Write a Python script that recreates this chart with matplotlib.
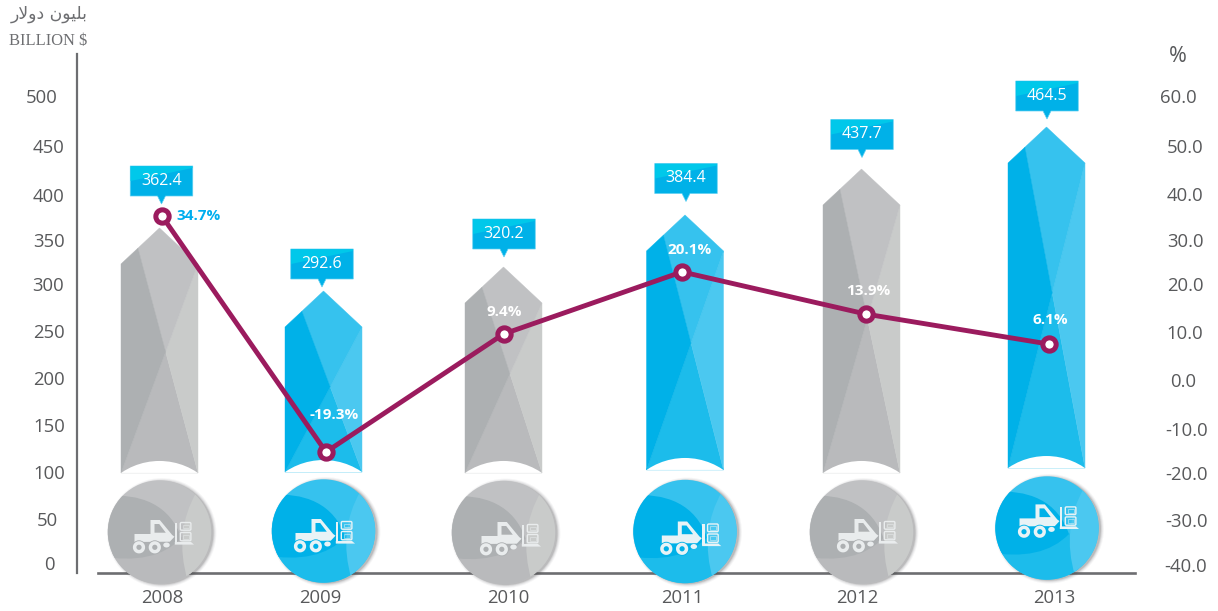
import matplotlib
matplotlib.use('Agg')
import matplotlib.pyplot as plt
from matplotlib.patches import Polygon, Ellipse, Circle, PathPatch, FancyBboxPatch, Wedge, Rectangle
from matplotlib.path import Path
from matplotlib.transforms import ScaledTranslation

W, H = 1218, 611
DPI = 100

# ---- data ----
years = ['2008', '2009', '2010', '2011', '2012', '2013']
year_label_x = [162, 320, 508, 682, 857, 1054]
bar_x = [159.5, 323.5, 503.5, 685, 861.5, 1046.5]
bar_tops = [358.7, 291.2, 316.9, 372.6, 421.8, 466.8]
bar_bases = [96.4, 97.4, 96.4, 99.6, 96.4, 101.7]
bar_labels = ['362.4', '292.6', '320.2', '384.4', '437.7', '464.5']
bar_tints = ['gray', 'blue', 'gray', 'blue', 'gray', 'blue']
line_x = [162, 326, 503.5, 682, 866, 1049]
line_vals = [34.4, -15.9, 9.25, 22.5, 13.5, 7.1]
line_labels = ['34.7%', '-19.3%', '9.4%', '20.1%', '13.9%', '6.1%']
left_ticks = [500, 450, 400, 350, 300, 250, 200, 150, 100, 50, 0]
right_ticks = [60, 50, 40, 30, 20, 10, 0, -10, -20, -30, -40]
right_tick_labels = ['60.0', '50.0', '40.0', '30.0', '20.0', '10.0', '0.0', '-10.0', '-20.0', '-30.0', '-40.0']

# ---- layout / style ----
TXT = '#58595b'
AXC = '#6d6e71'
BLUE = '#00b1e8'
LINE = '#9b1b5e'
PAL = {'gray': dict(left='#adb0b2', top='#c0c1c3', right='#c9cbca', bottom='#b9babc', icon='#e9eced'),
       'blue': dict(left='#00b1e8', top='#36c2ee', right='#4bc8f0', bottom='#1cbceb', icon='#e8f3f6')}
left_label_py = [96, 146, 195, 240, 284, 331, 378, 425, 472, 519, 563]
left_label_dx = [-7, 0, 0, 0, -1, 0, 0, 0, 0, -2, 0]
right_label_py = [96, 146, 194, 240, 284, 332, 380, 429, 473, 520, 565]
right_label_dx = [-7, 0, 0, 0, 0, 0, -2, 2, 2, 2, 1]
circle_c = [(159.5, 532), (323.5, 531), (503.5, 532.5), (685, 531.5), (861.5, 532), (1047, 528)]
icon_shift = [(0.5, 0), (-2.5, 0), (3.5, 1.5), (2.3, 2), (2.5, -1), (-2, -11.6)]
call_x = [161.5, 322, 504, 686, 862, 1047]
call_tip_py = [204, 287, 257, 201.5, 157.5, 119]
pct_pos = [(199, 216), (334, 415), (504, 312), (690, 250), (868, 291), (1050, 320)]

plt.rcParams['font.family'] = ['Open Sans', 'DejaVu Sans']
fig = plt.figure(figsize=(W / DPI, H / DPI), dpi=DPI, facecolor='white')

AX_L, AX_R, AX_B, AX_T = 77, 1135, 572.5, 54
ax = fig.add_axes([AX_L / W, 1 - AX_B / H, (AX_R - AX_L) / W, (AX_B - AX_T) / H], zorder=1)
ax.set_xlim(AX_L, AX_R)
PX_L = 0.934
ax.set_ylim((563 - AX_B) / PX_L, (563 - AX_T) / PX_L)
ax.patch.set_visible(False)
for s in ['top', 'right']:
    ax.spines[s].set_visible(False)
ax.spines['left'].set_color(AXC)
ax.spines['left'].set_linewidth(1.6)
ax.spines['bottom'].set_color(AXC)
ax.spines['bottom'].set_linewidth(1.9)
ax.spines['bottom'].set_bounds(98, AX_R)

ax.set_xticks(year_label_x)
ax.set_xticklabels(years, fontsize=13.3, color=TXT)
ax.tick_params(axis='x', length=0, pad=12.2)
ax.set_yticks(left_ticks)
ax.set_yticklabels([str(t) for t in left_ticks], fontsize=13.3, color=TXT, ha='center')
ax.tick_params(axis='y', length=0, pad=20.2)
for lab, v, py, dx in zip(ax.get_yticklabels(), left_ticks, left_label_py, left_label_dx):
    dy = (563 - PX_L * v) - py
    lab.set_transform(lab.get_transform() + ScaledTranslation(dx / DPI, dy / DPI, fig.dpi_scale_trans))


def intersect(p1, p2, p3, p4):
    x1, y1 = p1; x2, y2 = p2; x3, y3 = p3; x4, y4 = p4
    d = (x1 - x2) * (y3 - y4) - (y1 - y2) * (x3 - x4)
    a = x1 * y2 - y1 * x2
    b = x3 * y4 - y3 * x4
    return ((a * (x3 - x4) - (x1 - x2) * b) / d, (a * (y3 - y4) - (y1 - y2) * b) / d)


BW = 77
DROP = 36 / PX_L
for x, top, base, tint in zip(bar_x, bar_tops, bar_bases, bar_tints):
    c = PAL[tint]
    l, r = x - BW / 2, x + BW / 2
    sh = top - DROP
    roof = (l + 0.44 * BW / 2, sh + 0.44 * DROP)
    TL, TR, BL, BR, AP = (l, sh), (r, sh), (l, base), (r, base), (x, top)
    X = intersect(roof, BR, BL, TR)
    outline = Polygon([BL, TL, AP, TR, BR], closed=True, fc='none', ec='none')
    ax.add_patch(outline)
    for pts, col in [([BL, BR, X], c['bottom']), ([TR, BR, X], c['right']),
                     ([roof, AP, TR, X], c['top']), ([TL, roof, X, BL], c['left'])]:
        ax.add_patch(Polygon(pts, closed=True, fc=col, ec=col, lw=0.3))
    arch = Ellipse((x, base - (67.8 - 12) / PX_L), 2 * 67.8, 2 * 67.8 / PX_L, fc='white', ec='none', zorder=3)
    ax.add_patch(arch)
    arch.set_clip_path(outline)

# overlay in pixel units for the round badges, icons and value flags
ov = fig.add_axes([0, 0, 1, 1], zorder=2)
ov.set_xlim(0, W)
ov.set_ylim(H, 0)
ov.axis('off')


def curve(*segs):
    verts, codes = [], []
    for code, pts in segs:
        verts += pts
        codes += [code] * len(pts)
    return Path(verts, codes)


def icon(cx, cy, col, bg):
    z = 6
    def P(pts):
        return [(cx + a, cy + b) for a, b in pts]
    body = P([(-25.5, 2), (-9.5, 2), (-9.5, -12), (-0.2, -12), (12.2, 3), (14.5, 4.7), (9.8, 9.7), (-25.5, 10)])
    win = P([(-5.5, -8), (-5.5, 0.7), (5.8, 0.7), (-0.8, -8)])
    path = Path(body + [body[0]] + win + [win[0]],
                [Path.MOVETO] + [Path.LINETO] * (len(body) - 1) + [Path.CLOSEPOLY] +
                [Path.MOVETO] + [Path.LINETO] * 3 + [Path.CLOSEPOLY])
    ov.add_patch(PathPatch(path, fc=col, ec='none', zorder=z))
    for wx in (-21, -5.2):
        ov.add_patch(Circle((cx + wx, cy + 15.3), 7.0, fc=bg, ec='none', zorder=z + .1))
        ov.add_patch(Wedge((cx + wx, cy + 15.3), 6.1, 0, 360, width=3.5, fc=col, ec='none', zorder=z + .2))
    ov.add_patch(Ellipse((cx + 6.5, cy + 13), 6.5, 5, fc=col, ec='none', zorder=z))
    ov.add_patch(Rectangle((cx + 14.8, cy - 9.3), 2.6, 20.6, fc=col, ec='none', zorder=z))
    ov.add_patch(Polygon(P([(14.8, 10), (31, 10), (34, 12.6), (14.8, 12.6)]), fc=col, ec='none', zorder=z))
    for by, bh in ((-10, 8.7), (0, 9.3)):
        ov.add_patch(FancyBboxPatch((cx + 20.3, cy + by + .5), 10.6, bh - 1, boxstyle='round,pad=0,rounding_size=1.2',
                                    fc='none', ec=col, lw=1.0, zorder=z))
        ov.add_patch(Rectangle((cx + 22.7, cy + by + 2.5), 5.8, bh - 5, fc='none', ec=col, lw=0.5, alpha=.7, zorder=z))


R = 51.7
for (cx, cy), (sx, sy), tint in zip(circle_c, icon_shift, bar_tints):
    c = PAL[tint]
    for grow, a in [(3.5, .05), (2.5, .08), (1.5, .12), (0.6, .18)]:
        ov.add_patch(Circle((cx + 2.2, cy + 0.8), R + grow - .5, fc='#4d4d4f', ec='none', alpha=a, zorder=4))
    disc = Circle((cx, cy), R, fc=c['top'], ec='none', zorder=5)
    ov.add_patch(disc)
    M, C3, L, CL = Path.MOVETO, Path.CURVE3, Path.LINETO, Path.CLOSEPOLY
    def rel(pts):
        return [(cx + a, cy + b) for a, b in pts]
    layers = [
        (curve((M, rel([(-60, 24)])), (L, rel([(22, 6), (32, -6), (32, 60), (-60, 60)])), (CL, rel([(-60, 24)]))), c['bottom']),
        (curve((M, rel([(-60, -36)])), (C3, rel([(5, -42), (22, 6)])), (C3, rel([(-5, 34), (-60, 24)])), (CL, rel([(-60, -36)]))), c['left']),
        (curve((M, rel([(37, -40)])), (C3, rel([(14, 0), (28, 48)])), (L, rel([(70, 48), (70, -40)])), (CL, rel([(37, -40)]))), c['right']),
    ]
    for p, col in layers:
        pp = PathPatch(p, fc=col, ec='none', zorder=5.1)
        ov.add_patch(pp)
        pp.set_clip_path(disc)
    icon(cx + sx, cy + sy, c['icon'], c['left'])

# value flags
FW, FH, TIP = 62.5, 30, 8
for x, tip, lab in zip(call_x, call_tip_py, bar_labels):
    l, r = x - FW / 2, x + FW / 2
    b = tip - TIP
    t = b - FH
    ov.add_patch(Polygon([(l, t), (r, t), (r, b), (x + 4, b), (x, tip), (x - 4, b), (l, b)], closed=True,
                         fc=BLUE, ec='#5fd0f2', lw=0.5, zorder=7))
    ov.add_patch(Polygon([(l + .3, t + .3), (r - .3, t + .3), (r - .3, t + 2), (l + .3, t + 15)], closed=True,
                         fc='#00c8ea', ec='none', zorder=7.1))
    ov.text(x, (t + b) / 2, lab, color='white', fontsize=11.5, ha='center', va='center', zorder=8)

# percentage line on the right-hand scale
tx = ax.twinx()
tx.set_zorder(3)
tx.patch.set_visible(False)
for s in tx.spines.values():
    s.set_visible(False)
PX_R = 4.69
tx.set_ylim((377.4 - AX_B) / PX_R, (377.4 - AX_T) / PX_R)
tx.set_yticks(right_ticks)
tx.set_yticklabels(right_tick_labels, fontsize=13.3, color=TXT, ha='center')
tx.tick_params(axis='y', length=0, pad=36)
for lab, v, py, dx in zip(tx.get_yticklabels(), right_ticks, right_label_py, right_label_dx):
    dy = (377.4 - PX_R * v) - py
    lab.set_transform(lab.get_transform() + ScaledTranslation(dx / DPI, dy / DPI, fig.dpi_scale_trans))
tx.plot(line_x, line_vals, color=LINE, lw=3.5, marker='o', ms=9.6, mfc='white', mec=LINE, mew=3.6,
        solid_joinstyle='miter', clip_on=False)

top_ov = fig.add_axes([0, 0, 1, 1], zorder=4)
top_ov.set_xlim(0, W)
top_ov.set_ylim(H, 0)
top_ov.axis('off')
for i, ((px, py), lab) in enumerate(zip(pct_pos, line_labels)):
    top_ov.text(px, py, lab, color='#00aeef' if i == 0 else 'white', fontsize=11, fontweight='bold',
                ha='center', va='center')

# axis captions ("billion dollars" in Arabic, shaped glyphs in visual order for the non-shaping text engine)
arabic = '\ufead\ufefb\ufeed\ufea9 \ufee5\ufeee\ufef4\ufee0\ufe91'
top_ov.text(88, 14, arabic, family='DejaVu Sans', fontsize=12.4, color='#6d6e71', ha='right', va='center')
top_ov.text(87, 40.5, 'BILLION $', family='Liberation Serif', fontsize=11.9, color='#6d6e71', ha='right', va='center')
top_ov.text(1178, 57, '%', fontsize=15.5, color=TXT, ha='center', va='center')

fig.savefig('out.png', dpi=DPI)
